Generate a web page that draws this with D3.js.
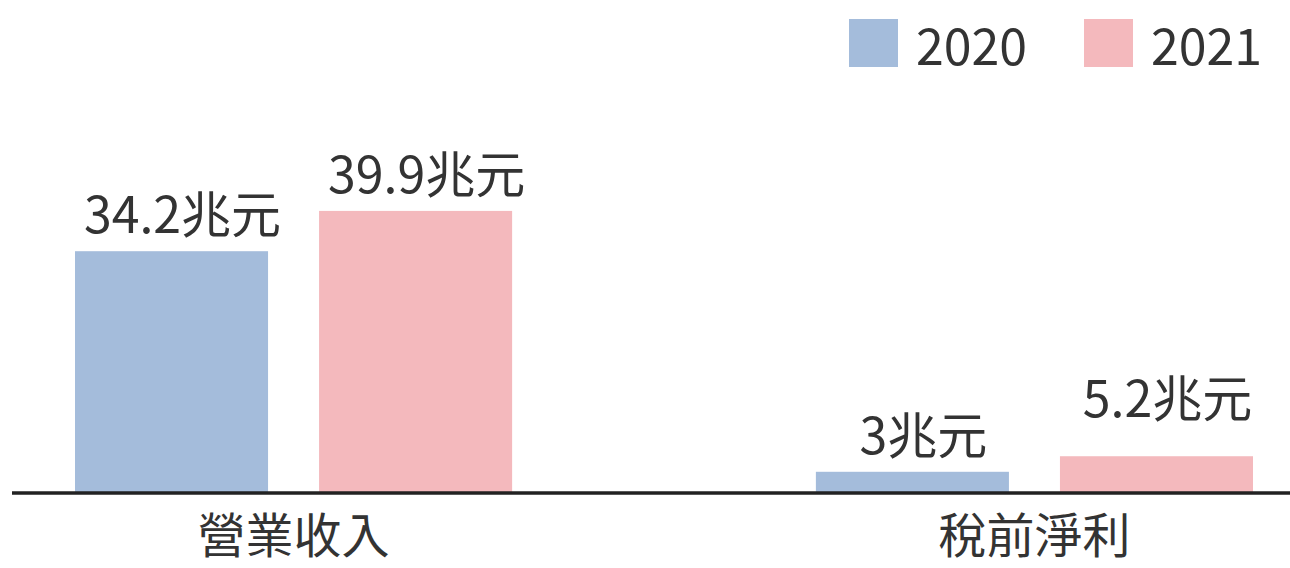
<!DOCTYPE html>
<html>
<head>
<meta charset="utf-8">
<script src="https://cdn.jsdelivr.net/npm/d3@7"></script>
<style>
  html, body { margin: 0; padding: 0; background: #fff; }
  svg text { font-family: "Noto Sans CJK TC", "Noto Sans", sans-serif; fill: #333; }
</style>
</head>
<body>
<svg id="chart" width="1290" height="568"></svg>
<script>
// categories / series
let categorias = ['營業收入', '稅前淨利']
let anios = ['2020', '2021']
let valores2020 = [34.2, 3]
let valores2021 = [39.9, 5.2]
let etiquetas2020 = ['34.2兆元', '3兆元']
let etiquetas2021 = ['39.9兆元', '5.2兆元']

let colores = d3.scaleOrdinal().domain(anios).range(['#a4bcdb', '#f4b9bd'])

let svg = d3.select('#chart')
let baseY = 493

// escalas
let x0 = d3.scaleBand().domain(categorias).range([75, 1253]).paddingInner(0.41)
let x1 = d3.scaleBand().domain(anios).range([0, x0.bandwidth()]).paddingInner(0.209)
let y = d3.scaleLinear().domain([0, 40]).range([baseY, baseY - 282.8])

let datos = []
categorias.forEach((c, i) => {
    datos.push({ cat: c, anio: '2020', value: valores2020[i], label: etiquetas2020[i] })
    datos.push({ cat: c, anio: '2021', value: valores2021[i], label: etiquetas2021[i] })
})

// barras
svg.append('g').selectAll('rect')
    .data(datos)
    .join('rect')
    .attr('x', d => x0(d.cat) + x1(d.anio))
    .attr('y', d => y(d.value))
    .attr('width', x1.bandwidth())
    .attr('height', d => y(0) - y(d.value))
    .attr('fill', d => colores(d.anio))

// etiquetas de valor (la de 5.2 va un poco mas arriba en el original)
svg.append('g').selectAll('text')
    .data(datos)
    .join('text')
    .attr('x', d => x0(d.cat) + x1(d.anio) + x1.bandwidth() / 2 + 11)
    .attr('y', d => y(d.value) - 18 - (d.label === '5.2兆元' ? 21 : 0))
    .attr('text-anchor', 'middle')
    .attr('font-size', 50)
    .text(d => d.label)

// linea base
svg.append('line')
    .attr('x1', 12).attr('x2', 1290)
    .attr('y1', y(0)).attr('y2', y(0))
    .attr('stroke', '#222')
    .attr('stroke-width', 3.5)

// categorias
let xAxis = d3.axisBottom(x0).tickSize(0).tickPadding(0)
let gx = svg.append('g').attr('transform', 'translate(0,' + baseY + ')').call(xAxis)
gx.select('.domain').remove()
gx.selectAll('text')
    .attr('font-size', 48)
    .attr('fill', '#333')
    .attr('font-family', '"Noto Sans CJK TC", sans-serif')
    .attr('dy', null)
    .attr('y', 60)

// leyenda
let leyenda = svg.append('g').selectAll('g')
    .data(anios)
    .join('g')
    .attr('transform', (d, i) => 'translate(' + (849 + i * 235) + ',19)')

leyenda.append('rect')
    .attr('width', 49)
    .attr('height', 48)
    .attr('fill', d => colores(d))

leyenda.append('text')
    .attr('x', 67)
    .attr('y', 46)
    .attr('font-size', 50)
    .text(d => d)
</script>
</body>
</html>
